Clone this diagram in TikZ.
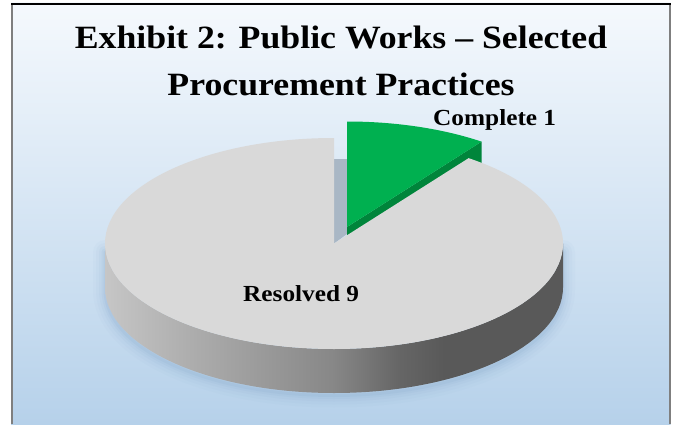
\documentclass[tikz,border=0pt]{standalone}
\usepackage{fontspec}
\setmainfont[FakeStretch=1.1]{Liberation Serif}
\definecolor{panelTop}{HTML}{F5F9FD}
\definecolor{panelBot}{HTML}{B6D1EA}
\definecolor{pieTop}{HTML}{D9D9D9}
\definecolor{sideA}{HTML}{C6C6C6}
\definecolor{sideB}{HTML}{AEAEAE}
\definecolor{sideC}{HTML}{878787}
\definecolor{sideD}{HTML}{666666}
\definecolor{sideE}{HTML}{595959}
\definecolor{greenTop}{HTML}{00B050}
\definecolor{greenSide}{HTML}{00853B}
\definecolor{gapGray}{HTML}{A9B7C5}
\definecolor{shadowBlue}{HTML}{7FA3C8}
\definecolor{frameGray}{HTML}{7F7F7F}
\pgfdeclarehorizontalshading{pieside}{100bp}{color(0bp)=(sideA); color(25bp)=(sideA); color(34bp)=(sideB); color(50bp)=(sideC); color(57bp)=(sideD); color(62bp)=(sideE); color(100bp)=(sideE)}
\tikzset{
  titletext/.style={font=\fontsize{32.5}{38}\selectfont\bfseries, anchor=base, inner sep=0pt},
  labeltext/.style={font=\fontsize{23}{27}\selectfont\bfseries, anchor=base west, inner sep=0pt},
}
\begin{document}
\begin{tikzpicture}[x=1pt,y=1pt]
\useasboundingbox (0,0) rectangle (676,424);
\fill[white] (0,0) rectangle (676,424);
% panel
\shade[top color=panelTop, bottom color=panelBot] (11,0) rectangle (670.7,421);
\fill[black] (11,419) rectangle (670.7,421.2);
\fill[frameGray] (11,0) rectangle (13,419);
\fill[frameGray] (668.7,0) rectangle (670.7,419);
% soft shadow
\foreach \w/\o in {24/0.04,18/0.05,12/0.07,7/0.09,3/0.12}{
  \draw[shadowBlue, opacity=\o, line width=\w pt, line cap=round, line join=round]
    (105,172) -- ++(0,-38) arc[start angle=180,end angle=360,x radius=229,y radius=105.5]
    -- ++(0,38);
}
% gap face
\fill[gapGray] (334,265) -- (347,265) -- (347,190) -- (334,180.5) -- cycle;
% green side face
\fill[greenSide] (347,197) -- (481.6,282.4) -- (481.6,238.4) -- (347,153) -- cycle;
% gray pie side
\shade[shading=pieside] (105,180.5) arc[start angle=180,end angle=360,x radius=229,y radius=105.5]
  -- ++(0,-44) arc[start angle=360,end angle=180,x radius=229,y radius=105.5] -- cycle;
% gray pie top
\fill[pieTop] (334,180.5) -- (334,286) arc[start angle=90,end angle=414,x radius=229,y radius=105.5] -- cycle;
% green top
\fill[greenTop] (347,197) -- (347,302.5) arc[start angle=90,end angle=54,x radius=229,y radius=105.5] -- cycle;
% texts
\node[titletext] (t1) at (341,375.7) {Exhibit 2: Public Works – Selected};
\node[titletext] (t2) at (341,328.5) {Procurement Practices};
\node[labeltext] (lc) at (433,299) {Complete 1};
\node[labeltext] (lr) at (243,122.3) {Resolved 9};
\end{tikzpicture}
\end{document}
